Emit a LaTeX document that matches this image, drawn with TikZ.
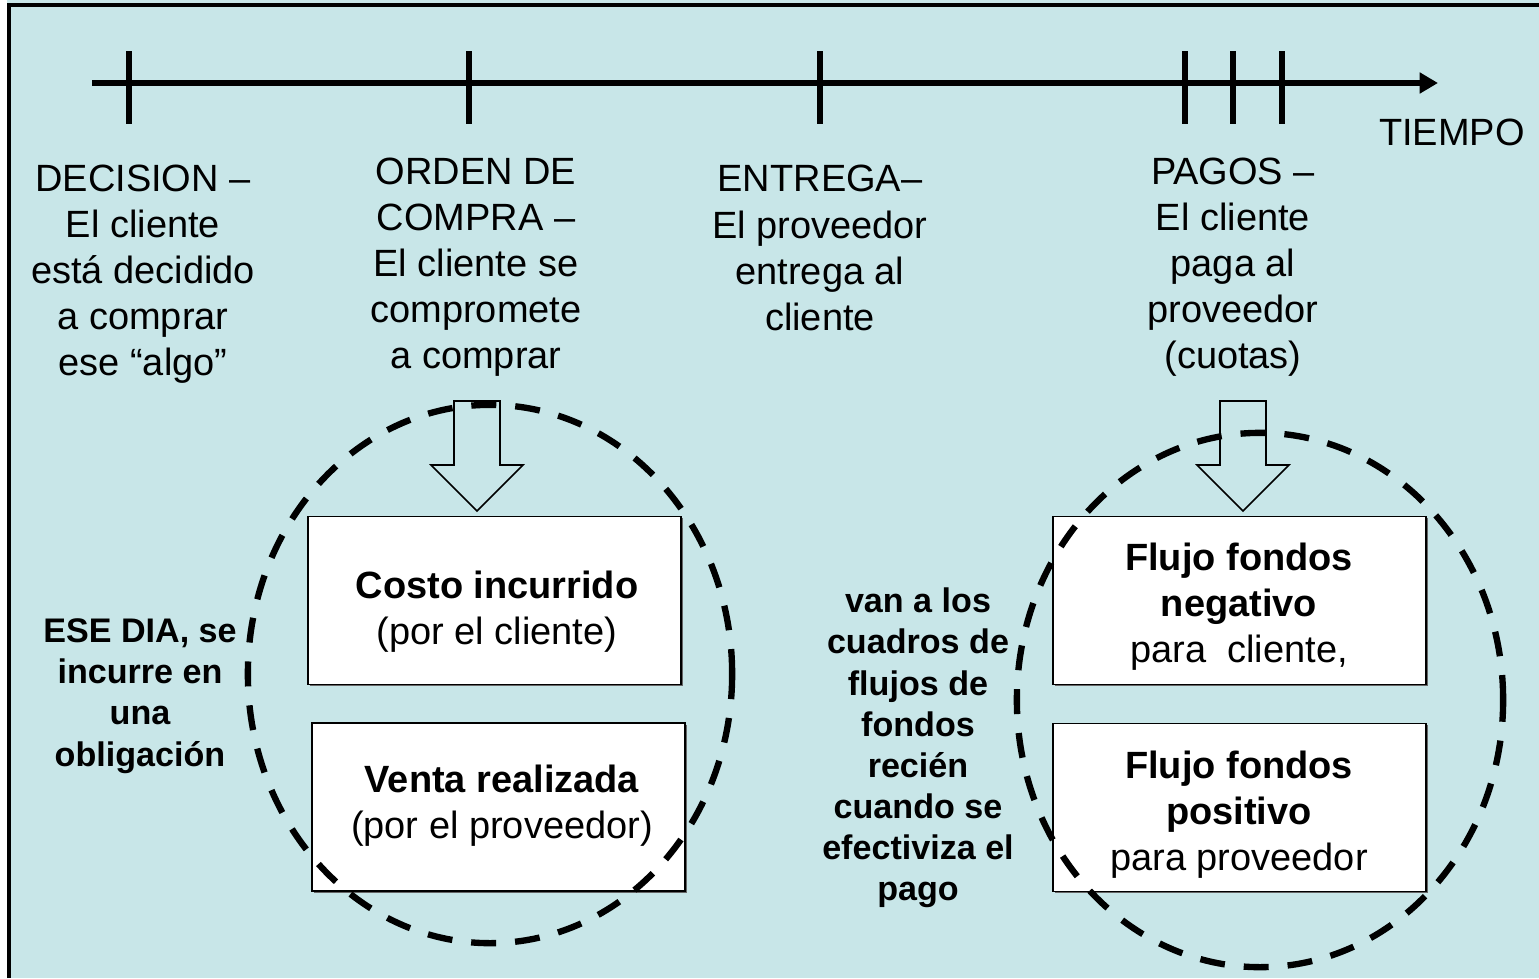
\documentclass[tikz,border=0pt]{standalone}
\usepackage{fontspec}
\setmainfont{Liberation Sans}
\usetikzlibrary{arrows.meta,shadows}
\definecolor{fondo}{RGB}{200,230,232}
\tikzset{
  etiqueta/.style={align=center, inner sep=0pt, font=\fontsize{10.8}{13.1}\selectfont},
  nota/.style={align=center, inner sep=0pt, font=\bfseries\fontsize{9.7}{11.7}\selectfont},
  caja/.style={draw, line width=0.5pt, fill=white, minimum width=3.73cm, minimum height=1.68cm,
    inner sep=0pt, drop shadow={shadow xshift=0.5pt, shadow yshift=-0.5pt, fill=black!60, opacity=1}},
  marca/.style={line width=1.6pt},
  grupo/.style={line width=1.8pt, dash pattern=on 7.1pt off 5.4pt},
  hueca/.style={line width=0.45pt},
}
\begin{document}
\begin{tikzpicture}[x=0.01cm, y=-0.01cm]
    \useasboundingbox (0,0) rectangle (1539,978);
    \fill[fondo] (0,0) rectangle (1539,978);
    \fill[white] (0,0) rectangle (7,978);
    \draw[line width=1.15pt] (8.7,978) -- (8.7,5.2) -- (1539,5.2);
    % eje del tiempo
    \coordinate (t0) at (92,83);
    \coordinate (t1) at (1438,83);
    \draw[marca, -{Triangle[length=5.2pt,width=5.7pt]}] (t0) -- (t1);
    \foreach \tx in {129,469,820,1185,1233,1282}
        \draw[marca] (\tx,51) -- (\tx,124);
    \node[etiqueta] (tiempo) at (1452,132) {TIEMPO};
    % hitos
    \node[etiqueta] (decision) at (143,274) {DECISION --\\El cliente\\está decidido\\a comprar\\ese “algo”};
    \node[etiqueta] (orden) at (476,267) {ORDEN DE\\COMPRA --\\El cliente se\\compromete\\a comprar};
    \node[etiqueta] (entrega) at (820,248) {ENTREGA--\\El proveedor\\entrega al\\cliente};
    \node[etiqueta] (pagos) at (1233,267) {PAGOS --\\El cliente\\paga al\\proveedor\\(cuotas)};
    % cajas
    \node[caja] (costo) at (494.5,600.5) {};
    \node[caja] (venta) at (498.5,807) {};
    \node[caja] (negativo) at (1239.5,600.5) {};
    \node[caja] (positivo) at (1239.5,807.5) {};
    \node[etiqueta] (costo-t) at (497,612) {\textbf{Costo incurrido}\\(por el cliente)};
    \node[etiqueta] (venta-t) at (502,805.5) {\textbf{Venta realizada}\\(por el proveedor)};
    \node[etiqueta] (negativo-t) at (1239,606.5) {\textbf{Flujo fondos}\\\textbf{negativo}\\para\ \ cliente,};
    \node[etiqueta] (positivo-t) at (1239,815) {\textbf{Flujo fondos}\\\textbf{positivo}\\para proveedor};
    % flechas huecas
    \foreach \cx in {477,1243}
        \draw[hueca] (\cx-23,401) -- (\cx+23,401) -- (\cx+23,465) -- (\cx+46,465)
            -- (\cx,511) -- (\cx-46,465) -- (\cx-23,465) -- cycle;
    % agrupaciones
    \draw[grupo] (490,674) ellipse [x radius=2.42cm, y radius=2.69cm];
    \draw[grupo] (1260,700) ellipse [x radius=2.43cm, y radius=2.67cm];
    \node[nota] (obligacion) at (140,696) {ESE DIA, se\\incurre en\\una\\obligación};
    \node[nota] (cuadros) at (918,748) {van a los\\cuadros de\\flujos de\\fondos\\recién\\cuando se\\efectiviza el\\pago};
\end{tikzpicture}
\end{document}
